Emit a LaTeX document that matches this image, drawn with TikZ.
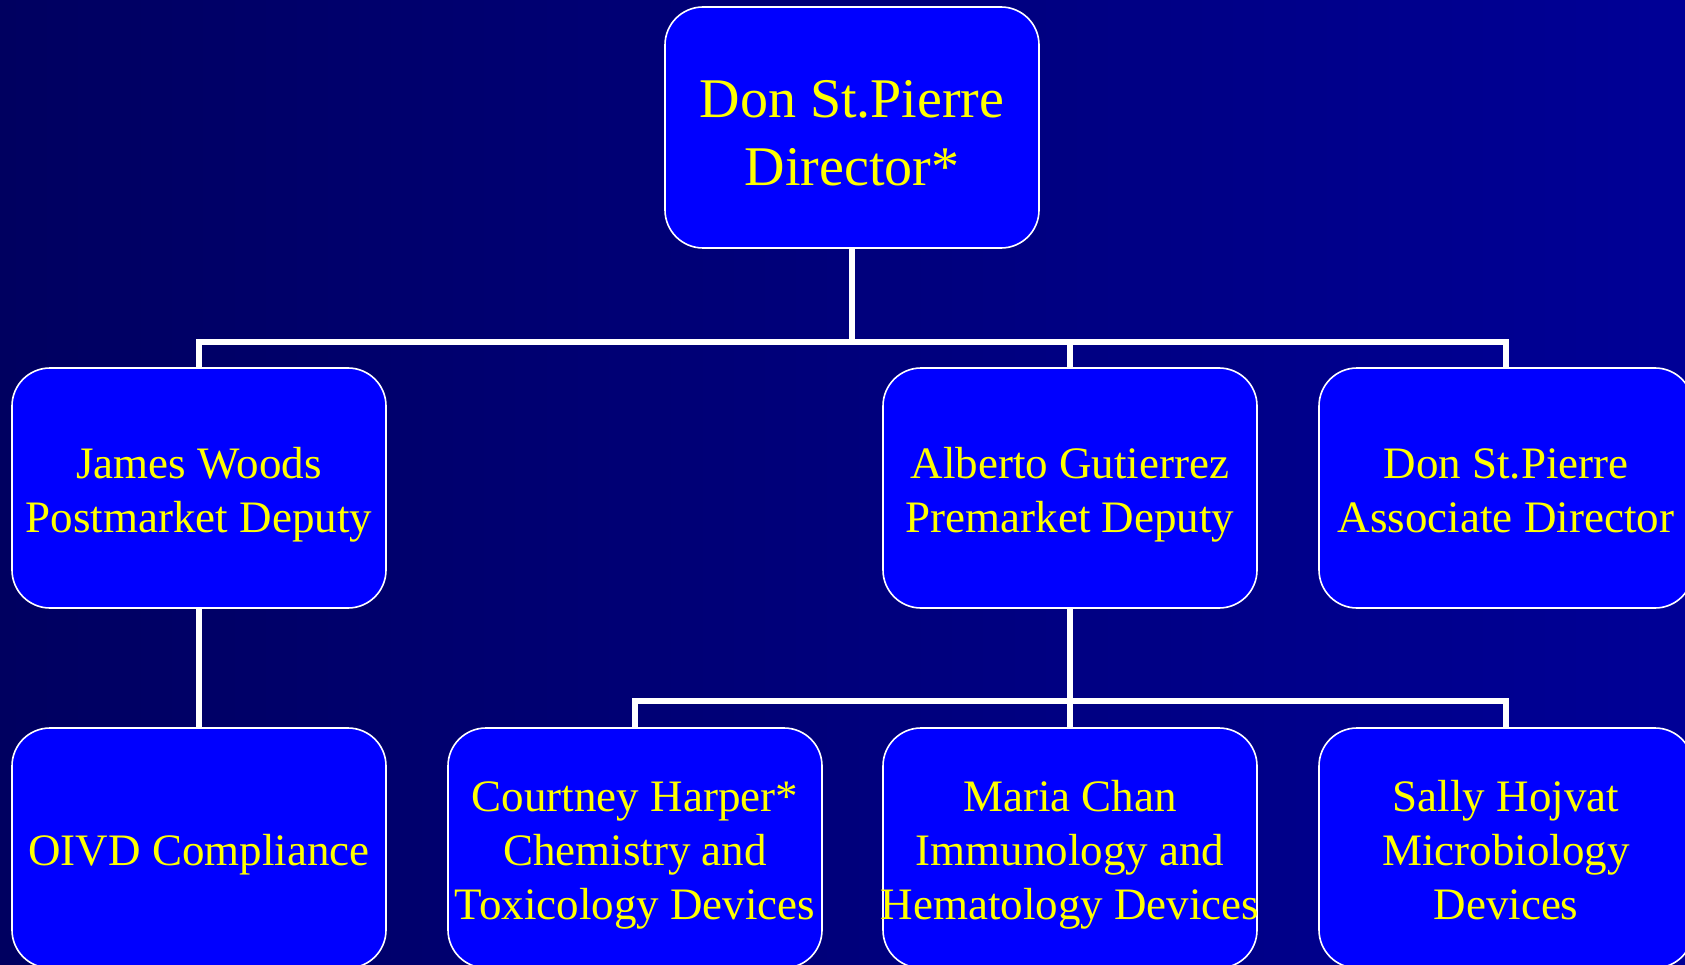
\documentclass[tikz,border=0pt]{standalone}
\usepackage{fontspec}
\setmainfont{Liberation Serif}
\definecolor{navyleft}{RGB}{0,0,96}
\definecolor{navyright}{RGB}{0,0,150}
\definecolor{boxblue}{RGB}{0,0,255}
\definecolor{txtyellow}{RGB}{255,255,0}
\newcommand{\lift}[1]{\rule{0pt}{#1}}
\begin{document}
\begin{tikzpicture}[x=1pt, y=-1pt,
    unit/.style={draw=white, line width=1.6pt, fill=boxblue, rounded corners=38pt,
        minimum width=374pt, minimum height=240pt, inner sep=0pt, align=center,
        text=txtyellow, font=\fontsize{45}{54}\selectfont},
    link/.style={draw=white, line width=5.5pt}]
        \useasboundingbox (0,0) rectangle (1685,965);
        \fill[left color=navyleft, right color=navyright] (0,0) rectangle (1685,965);

        \node[unit, minimum height=241pt, font=\fontsize{56}{68}\selectfont] (dir) at (852,127.5) {\lift{49pt}Don St.Pierre\\Director*};
        \node[unit] (woods) at (199,488) {\lift{45pt}James Woods\\Postmarket Deputy};
        \node[unit] (gutierrez) at (1070,488) {\lift{45pt}Alberto Gutierrez\\Premarket Deputy};
        \node[unit] (assoc) at (1506,488) {\lift{45pt}Don St.Pierre\\Associate Director\vphantom{y}};
        \node[unit] (oivd) at (199,848) {\lift{45pt}OIVD Compliance};
        \node[unit] (harper) at (635,848) {\lift{45pt}Courtney Harper*\\Chemistry and\\\makebox[300pt]{Toxicology Devices}};
        \node[unit] (chan) at (1070,848) {\lift{45pt}Maria Chan\\Immunology and\\\makebox[300pt]{Hematology Devices}};
        \node[unit] (hojvat) at (1506,848) {\lift{45pt}Sally Hojvat\\Microbiology\\Devices\vphantom{y}};
        \coordinate (top) at (852,342);
        \coordinate (mid) at (1070,701);

        \draw[link] (dir.south) -- (top);
        \draw[link] (top) -| (woods.north);
        \draw[link] (top) -| (gutierrez.north);
        \draw[link] (top) -| (assoc.north);

        \draw[link] (woods.south) -- (oivd.north);

        \draw[link] (gutierrez.south) -- (mid);
        \draw[link] (mid) -| (harper.north);
        \draw[link] (mid) -- (chan.north);
        \draw[link] (mid) -| (hojvat.north);
    \end{tikzpicture}
\end{document}
